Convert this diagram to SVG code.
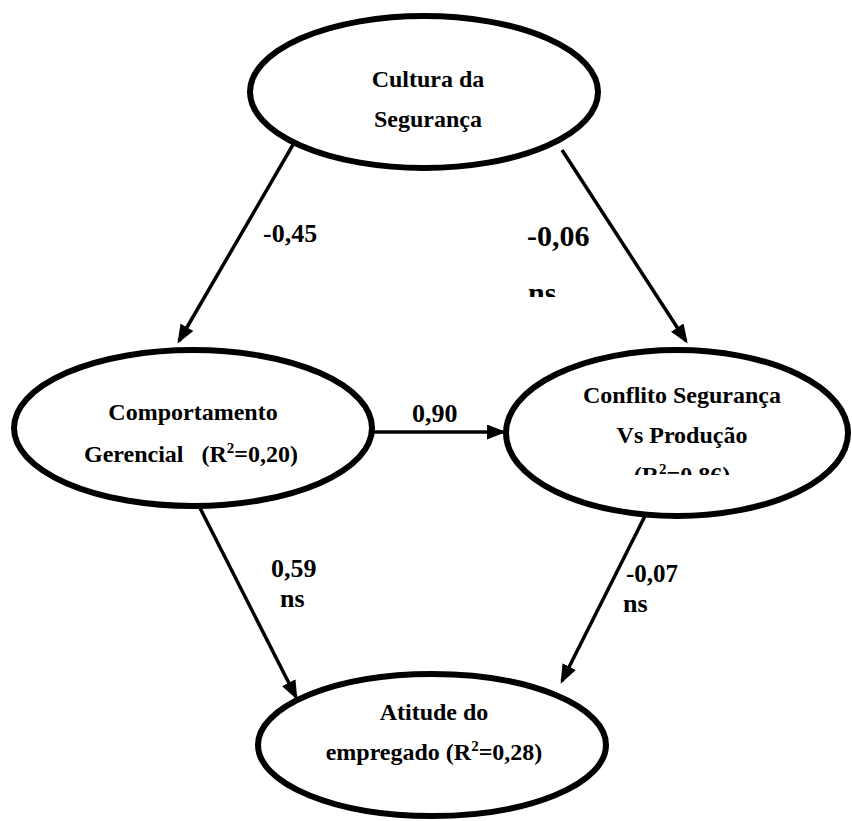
<svg xmlns="http://www.w3.org/2000/svg" width="852" height="821" viewBox="0 0 852 821">
  <style>
    .node { fill: #ffffff; stroke: #000000; stroke-width: 6; }
    .edge { stroke: #000000; stroke-width: 3.5; fill: none; marker-end: url(#arrow); }
    .t { font-family: 'Liberation Serif', 'DejaVu Serif', serif; font-weight: bold; fill: #000000; white-space: pre; }
    .nt { font-size: 24px; text-anchor: middle; }
    .lb { font-size: 26px; }
    .sup { font-size: 15px; }
  </style>
  <defs>
    <marker id="arrow" markerUnits="userSpaceOnUse" markerWidth="20" markerHeight="16" refX="16" refY="7.5" orient="auto">
      <path d="M0,0 L19,7.5 L0,15 z" fill="#000000"/>
    </marker>
    <clipPath id="clipConflito">
      <rect x="500" y="340" width="352" height="135"/>
    </clipPath>
    <clipPath id="clipNs">
      <rect x="500" y="200" width="120" height="97"/>
    </clipPath>
  </defs>

  <rect width="852" height="821" fill="#ffffff"/>

  <!-- connectors -->
  <g id="connectors">
    <line class="edge" x1="294" y1="143" x2="179" y2="341"/>
    <line class="edge" x1="562" y1="150" x2="686" y2="341"/>
    <line class="edge" x1="372" y1="432" x2="503" y2="432"/>
    <line class="edge" x1="200" y1="508" x2="296" y2="697"/>
    <line class="edge" x1="648" y1="510" x2="562" y2="681"/>
  </g>

  <!-- path coefficients -->
  <g id="labels">
    <text class="t lb" x="263" y="242">-0,45</text>
    <text class="t" font-size="30" x="527" y="246">-0,06</text>
    <text class="t" font-size="30" x="528" y="303" clip-path="url(#clipNs)">ns</text>
    <text class="t lb" x="412" y="422">0,90</text>
    <text class="t lb" x="271" y="577">0,59</text>
    <text class="t lb" x="280" y="607">ns</text>
    <text class="t" font-size="25" x="626" y="582">-0,07</text>
    <text class="t lb" x="623" y="612">ns</text>
  </g>

  <g id="cultura">
    <ellipse class="node" cx="424" cy="92" rx="174" ry="76"/>
    <text class="t nt" x="428" y="87">Cultura da</text>
    <text class="t nt" x="428" y="127">Segurança</text>
  </g>

  <g id="comportamento">
    <ellipse class="node" cx="193" cy="428" rx="179" ry="78"/>
    <text class="t nt" x="193" y="420">Comportamento</text>
    <text class="t nt" x="191" y="462" xml:space="preserve">Gerencial   (R<tspan class="sup" dy="-9">2</tspan><tspan dy="9">=0,20)</tspan></text>
  </g>

  <g id="conflito">
    <ellipse class="node" cx="677" cy="433" rx="171" ry="83"/>
    <text class="t nt" x="682" y="403">Conflito Segurança</text>
    <text class="t nt" x="682" y="443">Vs Produção</text>
    <text class="t nt" x="682" y="483" clip-path="url(#clipConflito)">(R<tspan class="sup" dy="-9">2</tspan><tspan dy="9">=0,86)</tspan></text>
  </g>

  <g id="atitude">
    <ellipse class="node" cx="432" cy="745" rx="174" ry="71"/>
    <text class="t nt" x="434" y="720">Atitude do</text>
    <text class="t nt" x="434" y="760">empregado (R<tspan class="sup" dy="-9">2</tspan><tspan dy="9">=0,28)</tspan></text>
  </g>
</svg>
